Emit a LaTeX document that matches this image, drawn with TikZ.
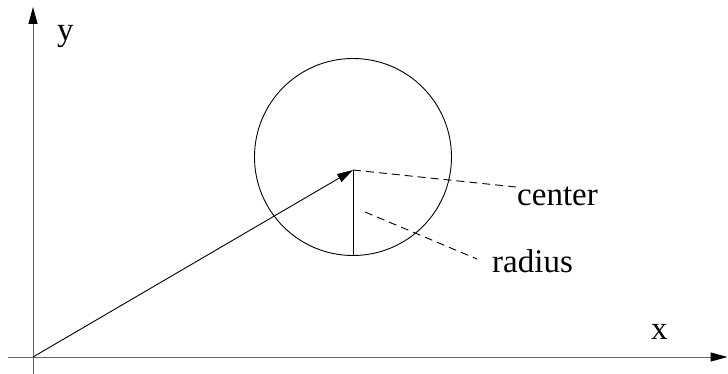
\documentclass[tikz,border=0pt]{standalone}
\usepackage{fontspec}
\setmainfont{Liberation Serif}
\usetikzlibrary{arrows.meta}
\tikzset{
  axis/.style={draw=black!60, line width=1pt, -{Triangle[length=17pt,width=9pt,color=black]}},
  vec/.style={draw=black, line width=0.9pt, -{Triangle[length=16pt,width=9pt]}},
  leader/.style={draw=black, line width=0.9pt, dash pattern=on 8pt off 5pt},
  lbl/.style={inner sep=0pt, anchor=base west, font=\fontsize{33}{40}\selectfont},
}
\begin{document}
\begin{tikzpicture}[x=1pt,y=-1pt]
\useasboundingbox (0,0) rectangle (728,374);
% axes
\coordinate (O) at (33,357);
\coordinate (ybot) at (33,374);
\coordinate (ytop) at (33,7);
\coordinate (xleft) at (8,357);
\coordinate (xright) at (727.5,357);
\draw[axis] (ybot) -- (ytop);
\draw[axis] (xleft) -- (xright);
% circle
\node[circle, draw, line width=0.9pt, minimum size=197pt, inner sep=0pt] (circ) at (353,157) {};
\coordinate (C) at (353,170);
\coordinate (R) at (353,255);
\draw[vec] (O) -- (C);
\draw[line width=0.9pt] (C) -- (R);
% labels
\node[lbl] (ylab) at (57,41) {y};
\node[lbl] (xlab) at (651,339) {x};
\node[lbl] (clab) at (517,206) {center};
\node[lbl] (rlab) at (492,272) {radius};
\coordinate (cend) at (516,187);
\coordinate (rstart) at (365,212);
\coordinate (rend) at (477,259);
\draw[leader] (C) -- (cend);
\draw[leader] (rstart) -- (rend);
\end{tikzpicture}
\end{document}
